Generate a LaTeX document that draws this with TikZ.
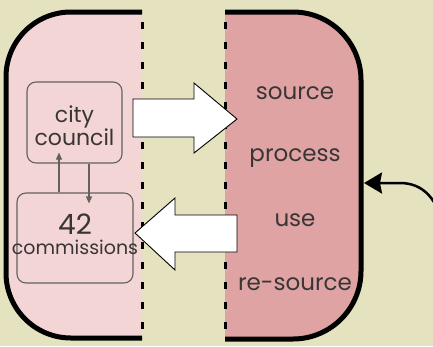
\documentclass[tikz,border=0pt]{standalone}
\usepackage{fontspec}
\setmainfont{Poppins}
\usetikzlibrary{arrows.meta}
\definecolor{bg}{HTML}{E4E2BF}
\definecolor{lpink}{HTML}{F3D5D5}
\definecolor{dpink}{HTML}{DFA3A3}
\definecolor{boxgray}{HTML}{636060}
\definecolor{txt}{HTML}{3A3535}
\begin{document}
\begin{tikzpicture}[x=1pt,y=-1pt,
  outline/.style={line width=5pt, line join=round},
  seam/.style={line width=3pt, dash pattern=on 7pt off 13pt, dash phase=10pt},
  subbox/.style={draw=boxgray, line width=1.1pt, rounded corners=9pt, inner sep=0pt},
  bigarrow/.style={fill=white, draw=black, line width=0.9pt, line join=miter},
  bigword/.style={text=txt, font=\fontsize{23}{25}\selectfont, inner sep=0pt, anchor=base},
  midword/.style={text=txt, font=\fontsize{22}{18.3}\selectfont, inner sep=0pt, align=center},
  numword/.style={text=txt, font=\fontsize{28}{30}\selectfont, inner sep=0pt, anchor=base},
  smallword/.style={text=txt, font=\fontsize{19}{21}\selectfont, inner sep=0pt, anchor=base},
  link/.style={draw=boxgray, line width=1.1pt, -{Triangle[length=7pt,width=6pt]}}
]
\useasboundingbox (0,0) rectangle (433,346);
\fill[bg] (0,0) rectangle (433,346);
% left panel
\fill[lpink, rounded corners=65pt] (142,12) -- (6,12) -- (6,338) -- (142,338) -- cycle;
\fill[lpink] (80,12) rectangle (142,338);
% right panel
\fill[dpink, rounded corners=68pt] (225,12) -- (361,12) -- (361,339) -- (225,339) -- cycle;
\fill[dpink] (225,12) rectangle (290,339);
% outlines
\draw[outline, rounded corners=65pt] (142,12) -- (6,12) -- (6,338) -- (142,338);
\draw[outline, rounded corners=68pt] (225,12) -- (361,12) -- (361,339) -- (225,339);
\draw[seam] (142,12) -- (142,338);
\draw[seam] (225,12) -- (225,339);
% sub boxes
\node[subbox, minimum width=95pt, minimum height=81pt] (council) at (74.5,122.5) {};
\node[subbox, minimum width=116pt, minimum height=90pt] (comm) at (75,238) {};
\node[midword] (citycouncil) at (74.5,126) {city\\council};
\node[numword] (n42) at (75,234.7) {42};
\node[smallword] (comw) at (75,254.7) {commissions};
\coordinate (upfrom) at ([xshift=-16pt]comm.north);
\coordinate (upto) at ([xshift=-15.5pt,yshift=11pt]council.south);
\coordinate (dnfrom) at ([xshift=14.5pt]council.south);
\coordinate (dnto) at ([xshift=14pt,yshift=-11pt]comm.north);
\draw[link] (upfrom) -- (upto);
\draw[link] (dnfrom) -- (dnto);
% big arrows
\draw[bigarrow] (133,99) -- (194,99) -- (194,83) -- (237,119) -- (194,153) -- (194,137) -- (133,137) -- cycle;
\draw[bigarrow] (237,215) -- (175,215) -- (175,198) -- (135,233) -- (175,270) -- (175,252) -- (237,252) -- cycle;
% right words
\node[bigword] (source) at (295,99.3) {source};
\node[bigword] (process) at (295,161.7) {process};
\node[bigword] (use) at (295,226.3) {use};
\node[bigword] (resource) at (295,290.3) {re-source};
% feedback arrow
\coordinate (fbfrom) at (446,240);
\coordinate (fbto) at (364,183);
\draw[line width=2.5pt, -{Stealth[length=18pt,width=21pt,inset=2pt]}] (fbfrom) .. controls (440,196) and (421,183) .. (400,183) -- (fbto);
\end{tikzpicture}
\end{document}
